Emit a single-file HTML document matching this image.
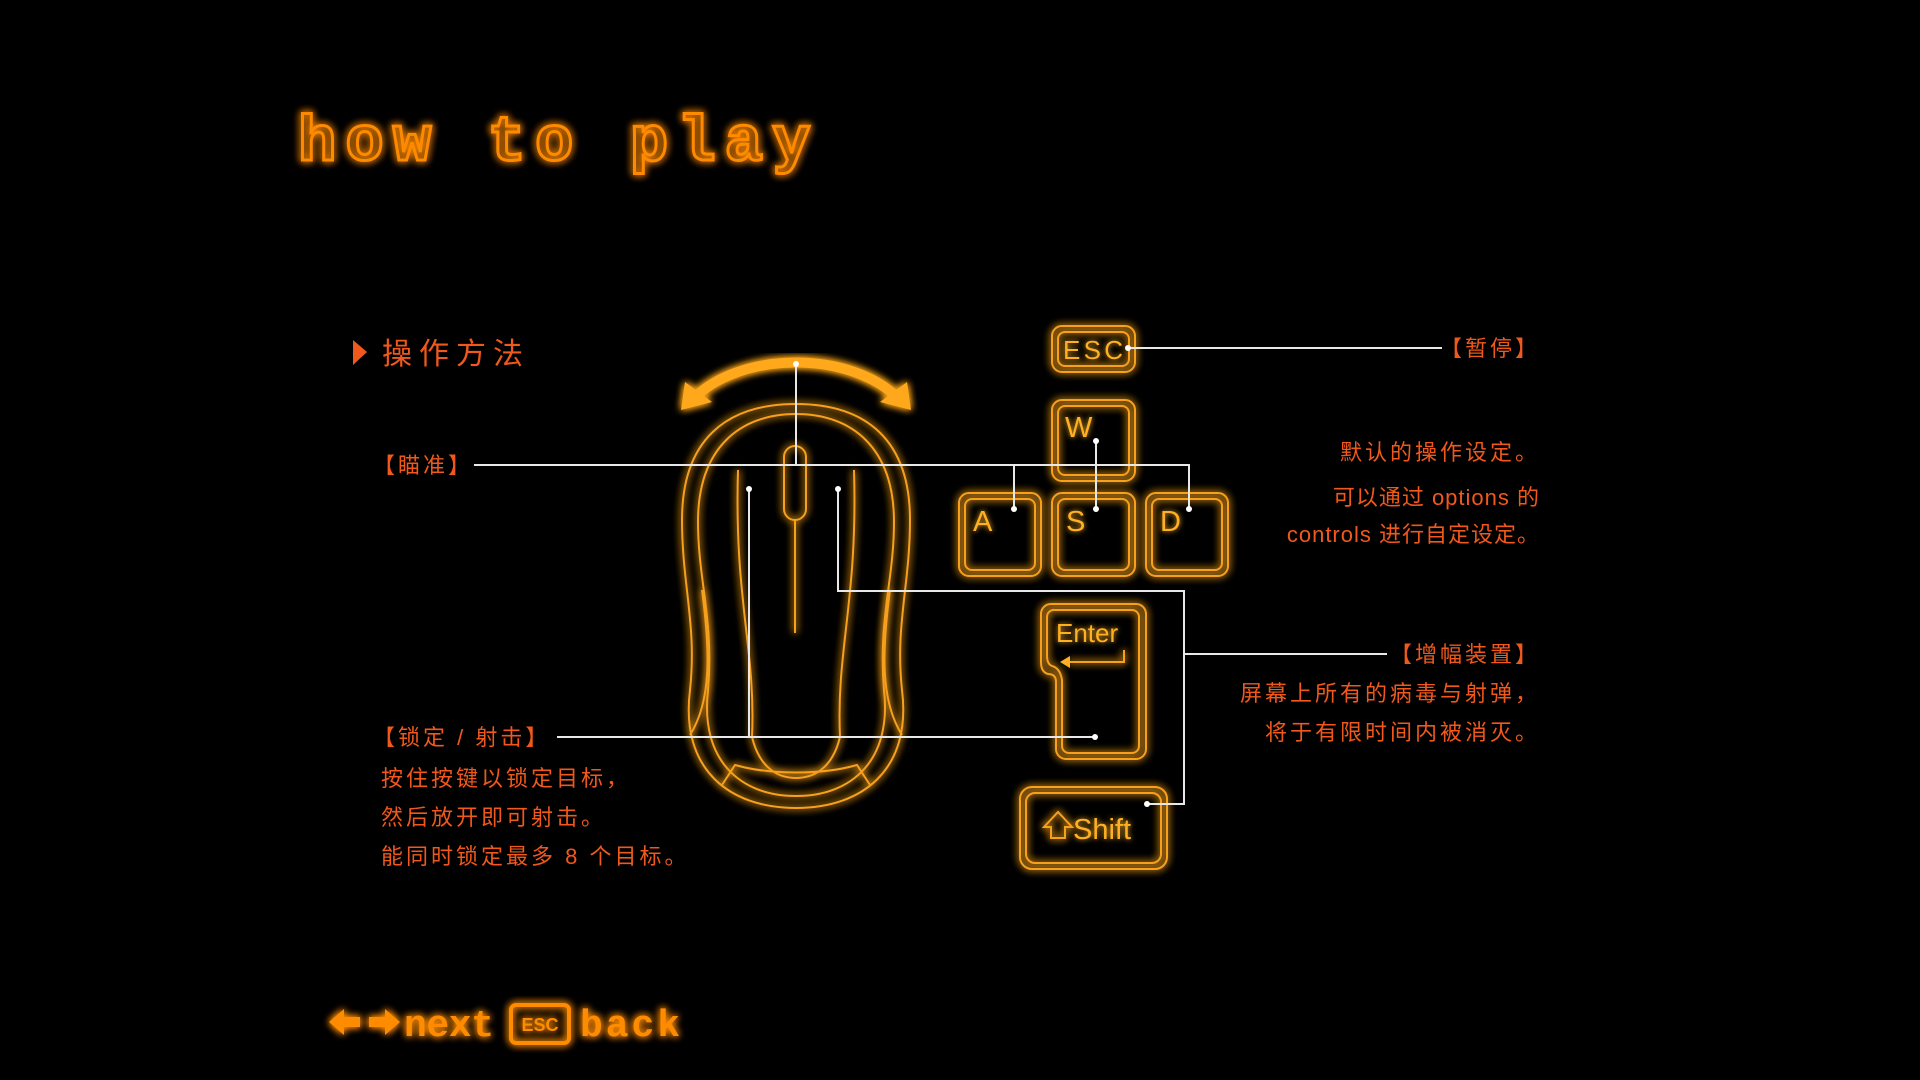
<!DOCTYPE html>
<html><head><meta charset="utf-8"><style>
html,body{margin:0;padding:0;background:#000;width:1920px;height:1080px;overflow:hidden}
svg{display:block}
.cn{font-family:"Liberation Sans","Noto Sans CJK SC",sans-serif;fill:#f0581c}
.key{font-family:"Liberation Sans",sans-serif;fill:#ffb020}
</style></head><body>
<svg width="1920" height="1080" viewBox="0 0 1920 1080" xmlns="http://www.w3.org/2000/svg">
<defs>
<filter id="g" x="-20%" y="-20%" width="140%" height="140%">
<feGaussianBlur in="SourceGraphic" stdDeviation="4" result="b"/>
<feMerge><feMergeNode in="b"/><feMergeNode in="b"/><feMergeNode in="SourceGraphic"/></feMerge>
</filter>
<filter id="g2" x="-20%" y="-20%" width="140%" height="140%">
<feGaussianBlur in="SourceGraphic" stdDeviation="3" result="b"/>
<feMerge><feMergeNode in="b"/><feMergeNode in="SourceGraphic"/></feMerge>
</filter>
</defs>
<rect width="1920" height="1080" fill="#000"/>

<!-- title -->
<g filter="url(#g)">
<text x="298" y="160" font-family="Liberation Mono,monospace" font-weight="bold" font-size="64" letter-spacing="9" fill="none" stroke="#ff8a00" stroke-width="3">how to play</text>
</g>

<!-- subtitle -->
<polygon points="353,340 367,352 353,365" fill="#f0581c"/>
<text class="cn" x="382" y="364" font-size="30" letter-spacing="7">操作方法</text>

<!-- mouse -->
<g filter="url(#g)" fill="none" stroke="#f7a01e" stroke-width="2">
<path d="M796,404 C866,404 910,440 910,520 C910,585 895,625 902,690 C912,770 862,808 796,808 C730,808 680,770 690,690 C697,625 682,585 682,520 C682,440 726,404 796,404 Z"/>
<path d="M796,414 C852,414 894,448 894,522 C894,580 878,620 884,690 C892,760 852,796 796,796 C740,796 700,760 708,690 C714,620 698,580 698,522 C698,448 740,414 796,414 Z"/>
<path d="M702,590 C710,650 712,700 690,735"/>
<path d="M890,590 C882,650 880,700 902,735"/>
<path d="M738,470 C734,600 756,650 752,737 C760,770 780,778 796,778 C812,778 832,770 840,737 C836,650 858,600 854,470"/>
<path d="M722,785 L735,765 C770,775 822,775 857,765 L870,785"/>
<rect x="784" y="446" width="22" height="74" rx="11"/>
<line x1="795" y1="520" x2="795" y2="633"/>
</g>
<g filter="url(#g)">
<path d="M692,400 C740,350 852,350 900,400" fill="none" stroke="#ffa81e" stroke-width="10"/>
<polygon points="681,410 685,382 712,402" fill="#ffa81e"/>
<polygon points="911,410 907,382 880,402" fill="#ffa81e"/>
</g>

<!-- keys -->
<g filter="url(#g)" fill="none" stroke="#f7a01e" stroke-width="2">
<rect x="1052" y="326" width="83" height="46" rx="10"/><rect x="1058" y="332" width="71" height="34" rx="7"/>
<rect x="1052" y="400" width="83" height="81" rx="10"/><rect x="1058" y="406" width="71" height="69" rx="7"/>
<rect x="959" y="493" width="82" height="83" rx="10"/><rect x="965" y="499" width="70" height="71" rx="7"/>
<rect x="1052" y="493" width="83" height="83" rx="10"/><rect x="1058" y="499" width="71" height="71" rx="7"/>
<rect x="1146" y="493" width="82" height="83" rx="10"/><rect x="1152" y="499" width="70" height="71" rx="7"/>
<path d="M1051,604 H1136 A10,10 0 0 1 1146,614 V749 A10,10 0 0 1 1136,759 H1066 A10,10 0 0 1 1056,749 V682 Q1056,674 1048,674 Q1041,672 1041,662 V614 A10,10 0 0 1 1051,604 Z"/>
<path d="M1055,610 H1132 A7,7 0 0 1 1139,617 V746 A7,7 0 0 1 1132,753 H1069 A7,7 0 0 1 1062,746 V680 Q1060,668 1052,666 Q1047,664 1047,656 V617 A7,7 0 0 1 1055,610 Z"/>
<rect x="1020" y="787" width="147" height="82" rx="12"/><rect x="1026" y="793" width="135" height="70" rx="9"/>
<path d="M1124,650 V662 H1068"/>
<path d="M1044,827 L1058,812 L1072,827 H1065 V838 H1051 V827 Z"/>
</g>
<polygon points="1060,662 1070,656 1070,668" fill="#ffb020"/>
<g class="key" filter="url(#g2)">
<text x="1063" y="359" font-size="26" textLength="60">ESC</text>
<text x="1065" y="437" font-size="29">W</text>
<text x="973" y="531" font-size="29">A</text>
<text x="1066" y="531" font-size="29">S</text>
<text x="1160" y="531" font-size="29">D</text>
<text x="1056" y="642" font-size="26">Enter</text>
<text x="1073" y="839" font-size="29">Shift</text>
</g>

<!-- connectors -->
<g stroke="#e8e8e8" stroke-width="2" fill="none">
<line x1="1128" y1="348" x2="1442" y2="348"/>
<polyline points="474,465 1189,465 1189,509"/>
<line x1="796" y1="364" x2="796" y2="465"/>
<line x1="1014" y1="465" x2="1014" y2="509"/>
<line x1="1096" y1="441" x2="1096" y2="509"/>
<polyline points="749,489 749,737"/>
<line x1="557" y1="737" x2="1095" y2="737"/>
<polyline points="838,489 838,591 1184,591 1184,804 1147,804"/>
<line x1="1184" y1="654" x2="1387" y2="654"/>
</g>
<g fill="#fff">
<circle cx="1128" cy="348" r="3"/><circle cx="796" cy="364" r="3"/><circle cx="1189" cy="509" r="3"/>
<circle cx="1014" cy="509" r="3"/><circle cx="1096" cy="441" r="3"/><circle cx="1096" cy="509" r="3"/>
<circle cx="749" cy="489" r="3"/><circle cx="838" cy="489" r="3"/><circle cx="1095" cy="737" r="3"/>
<circle cx="1147" cy="804" r="3"/>
</g>

<!-- labels -->
<g class="cn" font-size="22" letter-spacing="3">
<text x="1540" y="356" text-anchor="end">【暂停】</text>
<text x="1540" y="460" text-anchor="end">默认的操作设定。</text>
<text x="1540" y="505" text-anchor="end" letter-spacing="1">可以通过 options 的</text>
<text x="1540" y="542" text-anchor="end" letter-spacing="1">controls 进行自定设定。</text>
<text x="1540" y="662" text-anchor="end">【增幅装置】</text>
<text x="1540" y="701" text-anchor="end">屏幕上所有的病毒与射弹，</text>
<text x="1540" y="740" text-anchor="end">将于有限时间内被消灭。</text>
<text x="373" y="473">【瞄准】</text>
<text x="373" y="745">【锁定 / 射击】</text>
<text x="381" y="786">按住按键以锁定目标，</text>
<text x="381" y="825">然后放开即可射击。</text>
<text x="381" y="864">能同时锁定最多 8 个目标。</text>
</g>

<!-- bottom nav -->
<g filter="url(#g)" fill="#ff8c00">
<polygon points="329,1022 344,1009 344,1017 360,1017 360,1027 344,1027 344,1035"/>
<polygon points="400,1022 385,1009 385,1017 369,1017 369,1027 385,1027 385,1035"/>
<text x="404" y="1036" font-family="Liberation Mono,monospace" font-weight="bold" font-size="38" textLength="90">next</text>
<rect x="511" y="1005" width="58" height="38" rx="5" fill="none" stroke="#ff8c00" stroke-width="4"/>
<text x="540" y="1031" text-anchor="middle" font-family="Liberation Sans,sans-serif" font-weight="bold" font-size="18">ESC</text>
<text x="580" y="1036" font-family="Liberation Mono,monospace" font-weight="bold" font-size="38" textLength="100">back</text>
</g>
</svg>
</body></html>
